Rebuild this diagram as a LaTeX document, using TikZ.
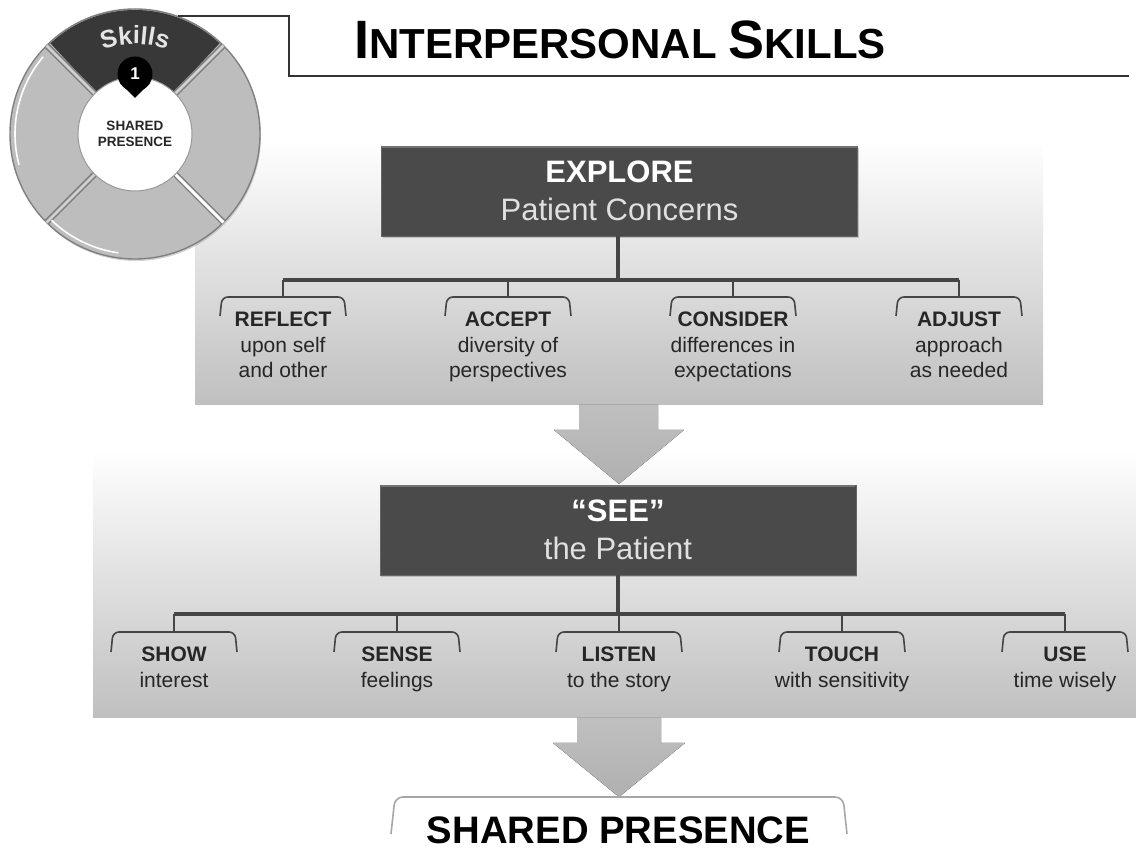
\documentclass[tikz,border=0pt]{standalone}
\usepackage{fontspec}
\setmainfont{Liberation Sans}
\usetikzlibrary{shadows,decorations.text}
\definecolor{boxgray}{gray}{0.29}
\definecolor{linegray}{gray}{0.27}
\definecolor{textgray}{gray}{0.15}
\definecolor{ringgray}{gray}{0.74}
\newcommand{\fsize}[1]{\fontsize{#1}{#1}\selectfont}
\tikzset{
	panel/.style={top color=white,bottom color=black!25,draw=none},
	flow/.style={top color=black!25,bottom color=black!31,draw=none},
	headbox/.style={rectangle,fill=boxgray,draw=black!60,minimum width=476pt,minimum height=90pt,align=center,text=white,font=\fontsize{31}{38}\selectfont,drop shadow={shadow xshift=1pt,shadow yshift=-2pt,opacity=.4}},
	item/.style={anchor=north,align=center,text=textgray,font=\fontsize{21}{25.5}\selectfont,inner sep=0pt},
	trunk/.style={draw=linegray,line width=3.6pt},
	drop/.style={draw=linegray,line width=2.2pt},
	brace/.style={draw=linegray,line width=1.6pt,rounded corners=6pt}
}
\begin{document}
\begin{tikzpicture}[x=1pt,y=1pt]
	\useasboundingbox (0,0) rectangle (1136,850);

	%panels
	\fill[panel] (195,445) rectangle (1043,710);
	\fill[panel] (93,132) rectangle (1136,400);

	%arrows
	\fill[flow] (579,445) -- (658,445) -- (658,420) -- (684,420) -- (619,366) -- (554,420) -- (579,420) -- cycle;
	\fill[flow] (577,132) -- (661,132) -- (661,107) -- (685,107) -- (619,53) -- (553,107) -- (577,107) -- cycle;

	%ring
	\node [circle,minimum size=250pt,inner sep=0pt,fill=ringgray,draw=black!50,line width=1.4pt,drop shadow={shadow xshift=1pt,shadow yshift=-2pt,opacity=.35}] (ring) at (135,716) {};
	\begin{scope}[shift={(135,716)}]
		\fill[black!78] (0,0) -- (47:124) arc (47:133:124) -- cycle;
		\foreach \a in {45,135,225}{
			\draw[black!50,line width=6pt] (\a:55) -- (\a:125);
			\draw[black!18,line width=2.6pt] (\a:55) -- (\a:125);
		}
		\draw[black!50,line width=6pt] (-45:55) -- (-45:125);
		\draw[white,line width=3pt] (-45:55) -- (-45:125);
		\draw[white,line width=1.6pt] (140:120) arc (140:195:120);
		\draw[white,line width=1.6pt] (226:120) arc (226:262:120);
	\end{scope}
	\node [circle,minimum size=114pt,inner sep=0pt,fill=white,draw=black!40,line width=1pt,align=center,font=\bfseries\fontsize{13.5}{16.5}\selectfont,text=textgray] (hub) at (135,716) {SHARED\\PRESENCE};
	\node [circle,minimum size=35pt,inner sep=0pt,fill=black,text=white,font=\bfseries\fsize{17}] (pin) at (135,776) {1};
	\fill[black] (120,767) -- (135,752) -- (150,767) -- cycle;
	\path[decorate,decoration={text along path,text align=center,text color=black!10,text={|\bfseries\fsize{25}|Skills}}] (135,716) ++ (130:90) arc (130:50:90);

	%title
	\coordinate (ruleend) at (1129,774);
	\draw[draw=black!80,line width=1.6pt] (ring.70) -| (289,774) -- (ruleend);
	\node [anchor=base west,inner sep=0pt,font=\bfseries\fsize{42}] (title) at (354,791) {{\fsize{54}I}NTERPERSONAL {\fsize{54}S}KILLS};

	%first box
	\node [headbox] (explore) at (619.5,659) {\textbf{EXPLORE}\\{\color{black!12}Patient Concerns}};
	\draw[black!55,line width=2pt] ([xshift=1pt,yshift=-1pt]explore.north west) -- ([xshift=-1pt,yshift=-1pt]explore.north east);
	\coordinate (ebar) at (618,570);
	\draw[trunk] (explore.south -| ebar) -- (ebar);
	\draw[trunk] (283,570) -- (959,570);

	%second box
	\node [headbox] (see) at (618,320) {\textbf{“SEE”}\\{\color{black!12}the Patient}};
	\draw[black!55,line width=2pt] ([xshift=1pt,yshift=-1pt]see.north west) -- ([xshift=-1pt,yshift=-1pt]see.north east);
	\coordinate (sbar) at (618,236);
	\draw[trunk] (see.south) -- (sbar);
	\draw[trunk] (174,236) -- (1065,236);

	%upper labels
	\foreach \x/\name/\first/\second/\third in {283/reflect/REFLECT/upon self/and other,508/accept/ACCEPT/diversity of/perspectives,733/consider/CONSIDER/differences in/expectations,959/adjust/ADJUST/approach/as needed}{
		\node [item] (\name) at (\x,538) {\textbf{\first}\\\second\\\third};
		\draw[drop] (\x,570) -- (\x,553);
		\draw[brace] (\x-63,534) -- (\x-61,553) -- (\x+61,553) -- (\x+63,534);
	}

	%lower labels
	\foreach \x/\name/\first/\second in {174/show/SHOW/interest,397/sense/SENSE/feelings,619/listen/LISTEN/to the story,842/touch/TOUCH/with sensitivity,1065/use/USE/time wisely}{
		\node [item] (\name) at (\x,203) {\textbf{\first}\\\second};
		\draw[drop] (\x,236) -- (\x,218);
		\draw[brace] (\x-63,198) -- (\x-61,218) -- (\x+61,218) -- (\x+63,198);
	}

	%result
	\node [inner sep=0pt,font=\bfseries\fsize{38.3}] (shared) at (618.5,20) {SHARED PRESENCE};
	\draw[draw=black!35,line width=1.6pt,rounded corners=8pt] (391,16) -- (395,53) -- (843,53) -- (847,16);
\end{tikzpicture}
\end{document}
